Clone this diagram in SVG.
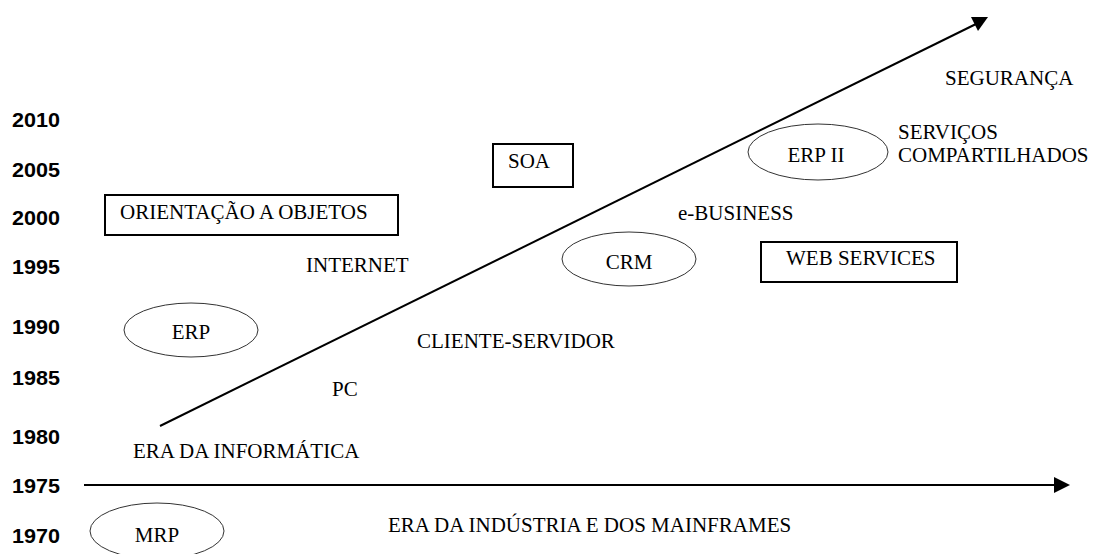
<svg xmlns="http://www.w3.org/2000/svg" width="1093" height="554" viewBox="0 0 1093 554">
<style>
.yr{font-family:"Liberation Sans",Arial,sans-serif;font-weight:bold;font-size:19.5px;fill:#000}
.t{font-family:"Liberation Serif","Times New Roman",serif;font-size:21px;fill:#000}
.box{fill:none;stroke:#000;stroke-width:2}
.ell{fill:none;stroke:#333;stroke-width:1}
.ln{stroke:#000;stroke-width:2;fill:none}
.ah{fill:#000}
</style>
<rect width="1093" height="554" fill="#fff"/>
<g id="years">
<text class="yr" x="12" y="127" textLength="48" lengthAdjust="spacingAndGlyphs">2010</text>
<text class="yr" x="12" y="177" textLength="48" lengthAdjust="spacingAndGlyphs">2005</text>
<text class="yr" x="12" y="225" textLength="48" lengthAdjust="spacingAndGlyphs">2000</text>
<text class="yr" x="12" y="274" textLength="48" lengthAdjust="spacingAndGlyphs">1995</text>
<text class="yr" x="12" y="334" textLength="48" lengthAdjust="spacingAndGlyphs">1990</text>
<text class="yr" x="12" y="385" textLength="48" lengthAdjust="spacingAndGlyphs">1985</text>
<text class="yr" x="12" y="444" textLength="48" lengthAdjust="spacingAndGlyphs">1980</text>
<text class="yr" x="12" y="493" textLength="48" lengthAdjust="spacingAndGlyphs">1975</text>
<text class="yr" x="12" y="543" textLength="48" lengthAdjust="spacingAndGlyphs">1970</text>
</g>
<g id="connectors">
<line class="ln" x1="160" y1="426" x2="976" y2="24"/>
<polygon class="ah" points="971,17 988,17 978,31"/>
<line class="ln" x1="84" y1="485" x2="1056" y2="485"/>
<polygon class="ah" points="1054,477 1070,485 1054,493"/>
</g>
<g id="orientacao"><rect class="box" x="105" y="195" width="293" height="40"/><text class="t" x="120" y="219">ORIENTAÇÃO A OBJETOS</text></g>
<g id="soa"><rect class="box" x="493" y="144" width="80" height="43"/><text class="t" x="508" y="168">SOA</text></g>
<g id="webservices"><rect class="box" x="761" y="242" width="196" height="40"/><text class="t" x="786" y="265">WEB SERVICES</text></g>
<g id="erp"><ellipse class="ell" cx="191" cy="330" rx="67" ry="27"/><text class="t" x="191" y="339" text-anchor="middle">ERP</text></g>
<g id="mrp"><ellipse class="ell" cx="157" cy="531" rx="67" ry="28"/><text class="t" x="157" y="542" text-anchor="middle">MRP</text></g>
<g id="crm"><ellipse class="ell" cx="629" cy="259" rx="67" ry="27"/><text class="t" x="629" y="269" text-anchor="middle">CRM</text></g>
<g id="erpii"><ellipse class="ell" cx="818" cy="152" rx="70" ry="28"/><text class="t" x="816" y="162" text-anchor="middle">ERP II</text></g>
<g id="seguranca"><text class="t" x="945" y="85">SEGURANÇA</text></g>
<g id="servicos"><text class="t" x="898" y="139">SERVIÇOS</text><text class="t" x="898" y="162">COMPARTILHADOS</text></g>
<g id="ebusiness"><text class="t" x="678" y="220">e-BUSINESS</text></g>
<g id="internet"><text class="t" x="306" y="272">INTERNET</text></g>
<g id="cliente"><text class="t" x="417" y="348">CLIENTE-SERVIDOR</text></g>
<g id="pc"><text class="t" x="332" y="396">PC</text></g>
<g id="erainfo"><text class="t" x="133" y="458">ERA DA INFORMÁTICA</text></g>
<g id="eraind"><text class="t" x="388" y="532">ERA DA INDÚSTRIA E DOS MAINFRAMES</text></g>
</svg>
